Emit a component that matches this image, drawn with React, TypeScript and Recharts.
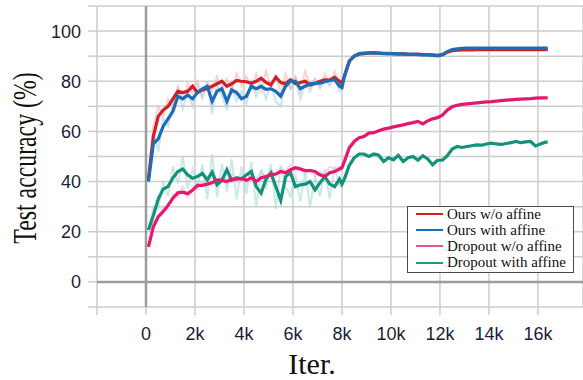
import { LineChart, Line, XAxis, YAxis, CartesianGrid, ReferenceLine, Legend, Customized } from "recharts";

// iterations, in thousands
const iterK = [
  0.1, 0.3, 0.5, 0.7, 0.9, 1.1, 1.3, 1.5, 1.7, 1.9,
  2.1, 2.3, 2.5, 2.7, 2.9, 3.1, 3.3, 3.5, 3.7, 3.9,
  4.1, 4.3, 4.5, 4.7, 4.9, 5.1, 5.3, 5.5, 5.7, 5.9,
  6.1, 6.3, 6.5, 6.7, 6.9, 7.1, 7.3, 7.5, 7.7, 7.9,
  8.0, 8.1, 8.3, 8.5, 8.7, 8.9, 9.1, 9.3, 9.5, 9.7, 9.9,
  10.1, 10.3, 10.5, 10.7, 10.9, 11.1, 11.3, 11.5, 11.7, 11.9,
  12.1, 12.3, 12.5, 12.7, 12.9, 13.1, 13.3, 13.5, 13.7, 13.9,
  14.1, 14.3, 14.5, 14.7, 14.9, 15.1, 15.3, 15.5, 15.7, 15.9,
  16.1, 16.3, 16.4,
];

const oursNoAffine = [
  41, 58, 66, 68.5, 70, 73, 76, 75.5, 76, 78,
  75.5, 76.5, 77, 78, 79, 80, 78, 79, 80.3, 80,
  79.8, 79.2, 80, 81.2, 79.5, 78.5, 81.6, 79.5, 79, 80.6,
  79, 79.5, 80, 78.5, 79, 80, 80.6, 80.5, 81.5, 80,
  79, 82, 88, 90, 90.8, 91, 91.2, 91.3, 91.2, 91.1, 91,
  91, 90.8, 91, 90.8, 90.7, 90.8, 90.6, 90.6, 90.5, 90.3,
  90.6, 91.6, 92.2, 92.4, 92.5, 92.5, 92.5, 92.6, 92.6, 92.6,
  92.6, 92.6, 92.6, 92.6, 92.6, 92.6, 92.6, 92.6, 92.6, 92.6,
  92.6, 92.6, 92.6,
];

const oursAffine = [
  40, 55, 57, 62, 65, 68, 74, 73, 74.5, 73,
  75.5, 77, 78, 72, 76, 77, 72, 76.5, 75.5, 73,
  74, 78, 77, 78, 76.8, 77, 76, 74, 78, 80,
  80, 77, 78, 79, 79.2, 79.2, 79.8, 80.3, 80.6, 78,
  77.5, 82, 88, 90, 91, 91.2, 91.3, 91.4, 91.2, 91, 91.1,
  90.9, 91, 90.8, 90.7, 90.8, 90.6, 90.5, 90.5, 90.3, 90.1,
  90.6, 91.8, 92.6, 92.9, 93.1, 93.2, 93.2, 93.2, 93.2, 93.2,
  93.2, 93.2, 93.2, 93.2, 93.2, 93.2, 93.2, 93.2, 93.2, 93.2,
  93.2, 93.2, 93.2,
];

const dropoutNoAffine = [
  14, 22, 26, 28, 30.5, 33.4, 35.5, 35.8, 35.2, 36.5,
  38.5, 38.5, 39, 39.5, 40.7, 40.5, 40, 41, 41, 41.3,
  40.5, 41.5, 40, 41.5, 42, 42.7, 43, 44, 43.5, 44.7,
  45.5, 45, 44.4, 44.4, 44, 42.7, 42, 43.5, 44, 45,
  45.5, 48, 53.5, 56, 57.5, 58, 59.3, 59.5, 60.3, 60.9, 61.3,
  61.8, 62.2, 62.6, 63.1, 63.5, 64, 63, 64.2, 65, 65.5,
  66.5, 68.5, 69.8, 70.4, 70.8, 71, 71.2, 71.4, 71.6, 71.8,
  71.9, 72.1, 72.3, 72.5, 72.6, 72.8, 72.9, 73, 73.1, 73.3,
  73.4, 73.4, 73.4,
];

const dropoutAffine = [
  20.7, 26.5, 33, 37, 38, 41.5, 44, 45, 42.7, 41.3,
  42, 43.3, 40.7, 43.8, 38.7, 40.5, 44.7, 40.5, 41.5, 41,
  42.7, 44, 38, 35.4, 41, 43.4, 38, 32.5, 42, 43.4,
  38, 38.7, 39, 40, 36.7, 39.5, 42, 39, 38, 41,
  39, 41, 46.5, 49.5, 51, 51, 50, 51, 50.5, 48, 49.5,
  48.7, 50.5, 48, 49.5, 50, 48.5, 50.3, 49, 46.7, 48.5,
  48.5, 50.3, 53, 54, 53.6, 54, 54.3, 54.6, 54.5, 55,
  55.3, 55, 54.8, 55.2, 55.5, 56, 55.5, 55.8, 56, 54.2,
  55, 55.7, 55.7,
];

// unsmoothed curves (faint), 0.1k .. 8.1k
const oursNoAffineRaw = [
  41, 62, 70, 66, 73, 70, 78, 73, 79, 75, 80, 74, 79, 76, 82, 77, 81, 76, 83, 78,
  82, 77, 83, 76, 84, 78, 82, 75, 83, 77, 82, 76, 84, 78, 81, 78, 83, 79, 84, 79, 79, 82,
];
const oursAffineRaw = [
  40, 60, 52, 65, 62, 71, 77, 69, 76, 70, 78, 73, 80, 67, 79, 74, 69, 79, 72, 76,
  71, 80, 74, 79, 73, 79, 72, 70, 80, 77, 81, 73, 80, 76, 81, 77, 81, 78, 82, 76, 77, 80,
];
const dropoutNoAffineRaw = [
  14, 24, 25, 30, 29, 35, 34, 38, 34, 38, 37, 40, 38, 42, 39, 42, 39, 43, 40, 41,
  39, 43, 41, 44, 42, 45, 42, 46, 44, 47, 44, 46, 43, 45, 42, 44, 43, 46, 45, 46, 45, 50,
];
const dropoutAffineRaw = [
  21, 30, 29, 40, 34, 46, 39, 50, 37, 45, 38, 47, 33, 51, 34, 47, 36, 49, 33, 46,
  35, 48, 30, 45, 37, 47, 29, 46, 38, 34, 43, 32, 44, 30, 42, 34, 45, 33, 46, 38, 38, 42,
];

const xTicks = [-2000, 0, 2000, 4000, 6000, 8000, 10000, 12000, 14000, 16000];
const yTicks = [-10, 0, 10, 20, 30, 40, 50, 60, 70, 80, 90, 100, 110];
const yLabels = [0, 20, 40, 60, 80, 100];

const RED = "#d21f26";
const BLUE = "#1b6db5";
const PINK = "#e5186f";
const GREEN = "#14917a";
const GRID = "#cdcdcd";
const INK = "#1d1d3a";
const SERIF = '"Liberation Serif", "Times New Roman", serif';
const SANS = '"Liberation Sans", Arial, sans-serif';

const legendItems = [
  { name: "Ours w/o affine", color: RED },
  { name: "Ours with affine", color: BLUE },
  { name: "Dropout w/o affine", color: "#e0559a" },
  { name: "Dropout with affine", color: "#1f9e62" },
];

const data = iterK.map((k, i) => ({
  iter: Math.round(k * 1000),
  ours: oursNoAffine[i],
  oursAff: oursAffine[i],
  drop: dropoutNoAffine[i],
  dropAff: dropoutAffine[i],
  oursRaw: oursNoAffineRaw[i] ?? null,
  oursAffRaw: oursAffineRaw[i] ?? null,
  dropRaw: dropoutNoAffineRaw[i] ?? null,
  dropAffRaw: dropoutAffineRaw[i] ?? null,
}));

function YTick(props: any) {
  const { x, y, payload } = props;
  const v = payload.value;
  return (
    <g>
      <line x1={x - 9} x2={x} y1={y} y2={y} stroke={GRID} strokeWidth={1.5} />
      {yLabels.includes(v) ? (
        <text x={x - 16} y={y} dy={6.5} textAnchor="end" fontFamily={SANS} fontSize={18} fill={INK}>
          {v}
        </text>
      ) : null}
    </g>
  );
}

function XTick(props: any) {
  const { x, y, payload } = props;
  const v = payload.value;
  return (
    <g>
      <line x1={x} x2={x} y1={y} y2={y + 8} stroke={GRID} strokeWidth={1.5} />
      {v >= 0 ? (
        <text x={x} y={y + 32.5} textAnchor="middle" fontFamily={SANS} fontSize={18} fill={INK}>
          {v === 0 ? "0" : `${v / 1000}k`}
        </text>
      ) : null}
    </g>
  );
}

function LegendBox() {
  return (
    <div
      style={{
        width: 167,
        height: 67,
        boxSizing: "border-box",
        border: "1px solid #4a4a4a",
        background: "#fff",
        paddingLeft: 8,
        fontFamily: SERIF,
        fontSize: 15,
        color: "#111",
      }}
    >
      <div style={{ marginTop: -1 }}>
        {legendItems.map((it) => (
          <div key={it.name} style={{ display: "flex", alignItems: "center", height: 16.2, whiteSpace: "nowrap" }}>
            <span style={{ display: "inline-block", width: 27, height: 2, background: it.color, marginRight: 4 }} />
            {it.name}
          </div>
        ))}
      </div>
    </div>
  );
}

function Titles() {
  return (
    <g>
      <text
        transform="translate(36,158) rotate(-90) scale(0.7,1)"
        textAnchor="middle"
        fontFamily={SERIF}
        fontSize={34}
        fill="#111"
      >
        Test accuracy (%)
      </text>
      <text x={312} y={374} textAnchor="middle" fontFamily={SERIF} fontSize={30} fill="#111">
        Iter.
      </text>
    </g>
  );
}

export default function App() {
  return (
    <div style={{ position: "absolute", left: 0, top: 0, background: "#fff" }}>
      <LineChart width={583} height={380} data={data} margin={{ top: 6, right: 0, left: 0, bottom: 0 }}>
        <CartesianGrid stroke={GRID} strokeWidth={1.5} />
        <XAxis
          dataKey="iter"
          type="number"
          domain={[-2000, 17840]}
          ticks={xTicks}
          tick={<XTick />}
          tickSize={0}
          tickMargin={0}
          tickLine={false}
          axisLine={false}
          height={73}
          interval={0}
        />
        <YAxis
          type="number"
          domain={[-10, 110]}
          ticks={yTicks}
          tick={<YTick />}
          tickSize={0}
          tickMargin={0}
          tickLine={false}
          axisLine={false}
          width={97}
          interval={0}
        />
        <ReferenceLine x={0} stroke="#9c9c9c" strokeWidth={2.5} />
        <ReferenceLine y={0} stroke="#9c9c9c" strokeWidth={2.5} />

        <Line dataKey="oursRaw" stroke="#f5b8ad" strokeOpacity={0.6} strokeWidth={2} dot={false} isAnimationActive={false} />
        <Line dataKey="oursAffRaw" stroke="#a9cfea" strokeOpacity={0.6} strokeWidth={2} dot={false} isAnimationActive={false} />
        <Line dataKey="dropRaw" stroke="#f6bcd2" strokeOpacity={0.6} strokeWidth={2} dot={false} isAnimationActive={false} />
        <Line dataKey="dropAffRaw" stroke="#a6dad2" strokeOpacity={0.6} strokeWidth={2} dot={false} isAnimationActive={false} />

        <Line dataKey="ours" stroke={RED} strokeWidth={3.2} dot={false} isAnimationActive={false} />
        <Line dataKey="oursAff" stroke={BLUE} strokeWidth={3.2} dot={false} isAnimationActive={false} />
        <Line dataKey="dropAff" stroke={GREEN} strokeWidth={3.2} dot={false} isAnimationActive={false} />
        <Line dataKey="drop" stroke={PINK} strokeWidth={3.2} dot={false} isAnimationActive={false} />

        <Legend
          layout="vertical"
          align="center"
          verticalAlign="middle"
          content={() => <LegendBox />}
          wrapperStyle={{ left: 407, top: 206, width: 167, height: 67 }}
        />
        <Customized component={Titles} />
      </LineChart>
    </div>
  );
}
